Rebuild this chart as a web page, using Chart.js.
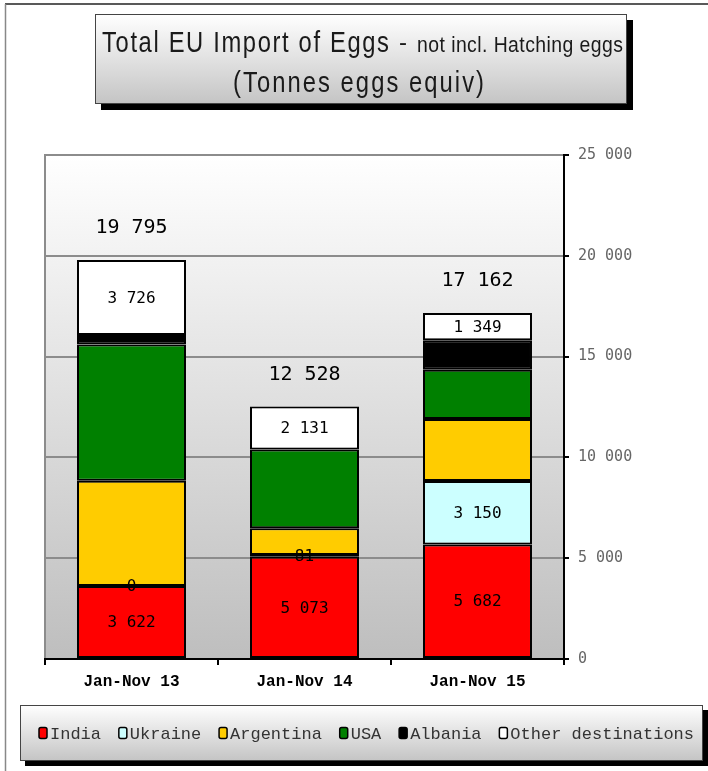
<!DOCTYPE html>
<html>
<head>
<meta charset="utf-8">
<script src="https://cdn.jsdelivr.net/npm/chart.js@4/dist/chart.umd.min.js"></script>
<style>
  html, body { margin: 0; padding: 0; background: #fff; }
  #wrap { width: 708px; height: 771px; position: relative; }
</style>
</head>
<body>
<div id="wrap"><canvas id="c" width="708" height="771"></canvas></div>
<script>
// ---- data ----
const categories = ["Jan-Nov 13", "Jan-Nov 14", "Jan-Nov 15"];
const seriesNames = ["India", "Ukraine", "Argentina", "USA", "Albania", "Other destinations"];
const india     = [3622, 5073, 5682];
const ukraine   = [0, 81, 3150];
const argentina = [5222, 1333, 3075];
const usa       = [6756, 3910, 2440];
const albania   = [469, 0, 1466];
const other     = [3726, 2131, 1349];
const totals    = [19795, 12528, 17162];
const yTicks    = [0, 5000, 10000, 15000, 20000, 25000];
const labelledSeries = ["India", "Ukraine", "Other destinations"];

const colors = ["#ff0000", "#ccffff", "#ffcc00", "#008000", "#000000", "#ffffff"];
const seriesValues = [india, ukraine, argentina, usa, albania, other];

function fmt(n) { return String(n).replace(/\B(?=(\d{3})+(?!\d))/g, " "); }

const datasets = seriesNames.map((name, i) => ({
  label: name,
  data: seriesValues[i],
  backgroundColor: colors[i],
  borderColor: "#000",
  borderWidth: 2,
  borderSkipped: false,
  categoryPercentage: 1.0,
  barPercentage: 0.63
}));

const CANVAS_W = 708, CANVAS_H = 771;
const PLOT_LEFT = 45, PLOT_TOP = 155, PLOT_RIGHT = 564, PLOT_BOTTOM = 659;

function drawFittedText(ctx, text, x, baseline, width, font, color, spacing) {
  ctx.save();
  ctx.font = font;
  if (spacing) ctx.letterSpacing = spacing + "px";
  const w = ctx.measureText(text).width - (spacing || 0);
  const sx = width / w;
  ctx.translate(x, baseline);
  ctx.scale(sx, 1);
  ctx.fillStyle = color;
  ctx.textAlign = "left";
  ctx.textBaseline = "alphabetic";
  ctx.fillText(text, 0, 0);
  ctx.restore();
}

function shadowBox(ctx, x, y, w, h, off) {
  ctx.save();
  ctx.fillStyle = "#000";
  ctx.fillRect(x + off, y + off, w, h);
  const g = ctx.createLinearGradient(0, y, 0, y + h);
  g.addColorStop(0, "#ffffff");
  g.addColorStop(1, "#c4c4c4");
  ctx.fillStyle = g;
  ctx.fillRect(x, y, w, h);
  ctx.strokeStyle = "#444";
  ctx.lineWidth = 1;
  ctx.strokeRect(x + 0.5, y + 0.5, w - 1, h - 1);
  ctx.restore();
}

const bgPlugin = {
  id: "bg",
  beforeDraw(chart) {
    const ctx = chart.ctx;
    const a = chart.chartArea;
    ctx.save();
    ctx.fillStyle = "#fff";
    ctx.fillRect(0, 0, CANVAS_W, CANVAS_H);
    // outer frame
    ctx.strokeStyle = "#222";
    ctx.lineWidth = 1.5;
    ctx.beginPath(); ctx.moveTo(5, 4); ctx.lineTo(CANVAS_W, 4); ctx.stroke();
    ctx.strokeStyle = "#888";
    ctx.beginPath(); ctx.moveTo(5.5, 4); ctx.lineTo(5.5, CANVAS_H); ctx.stroke();
    // plot background
    const g = ctx.createLinearGradient(0, a.top, 0, a.bottom);
    g.addColorStop(0, "#ffffff");
    g.addColorStop(1, "#bebebe");
    ctx.fillStyle = g;
    ctx.fillRect(a.left, a.top, a.right - a.left, a.bottom - a.top);
    ctx.strokeStyle = "#8c8c8c";
    ctx.lineWidth = 2;
    ctx.beginPath();
    ctx.moveTo(a.left, a.bottom); ctx.lineTo(a.left, a.top); ctx.lineTo(a.right, a.top);
    ctx.stroke();
    ctx.restore();
  },
  afterDraw(chart) {
    const ctx = chart.ctx;
    // data labels
    ctx.save();
    ctx.textAlign = "center";
    ctx.textBaseline = "middle";
    ctx.fillStyle = "#000";
    ctx.font = "16px 'DejaVu Sans Mono', monospace";
    chart.data.datasets.forEach((ds, i) => {
      if (!labelledSeries.includes(ds.label)) return;
      const meta = chart.getDatasetMeta(i);
      meta.data.forEach((bar, j) => {
        const cy = (bar.y + bar.base) / 2;
        ctx.fillText(fmt(ds.data[j]), bar.x, cy + 1);
      });
    });
    // totals
    ctx.font = "20px 'DejaVu Sans Mono', monospace";
    const topMeta = chart.getDatasetMeta(chart.data.datasets.length - 1);
    topMeta.data.forEach((bar, j) => {
      ctx.fillText(fmt(totals[j]), bar.x, bar.y - 32);
    });
    ctx.restore();

    // title box
    shadowBox(ctx, 95, 14, 532, 90, 6);
    drawFittedText(ctx, "Total EU Import of Eggs", 102, 52, 287, "29px 'Liberation Sans', Arial, sans-serif", "#1a1a1a", 2);
    drawFittedText(ctx, "-", 399, 50, 8, "24px 'Liberation Sans', Arial, sans-serif", "#1a1a1a");
    drawFittedText(ctx, "not incl. Hatching eggs", 417, 52, 206, "22px 'Liberation Sans', Arial, sans-serif", "#1a1a1a", 0.5);
    drawFittedText(ctx, "(Tonnes eggs equiv)", 233, 92, 251, "29px 'Liberation Sans', Arial, sans-serif", "#1a1a1a", 2.5);

    // legend box
    shadowBox(ctx, 20, 705, 683, 56, 5);
    ctx.save();
    ctx.font = "17px 'Liberation Mono', 'Courier New', monospace";
    ctx.textBaseline = "alphabetic";
    const startX = 39, endX = 694;
    const widths = chart.data.datasets.map(ds => ctx.measureText(ds.label).width);
    const used = widths.reduce((s, w) => s + 11 + w, 0);
    const gap = (endX - startX - used) / (widths.length - 1);
    let x = startX;
    chart.data.datasets.forEach((ds, i) => {
      ctx.fillStyle = ds.backgroundColor;
      ctx.strokeStyle = "#000";
      ctx.lineWidth = 1.5;
      ctx.beginPath();
      if (ctx.roundRect) ctx.roundRect(x, 727.5, 8, 11, 2); else ctx.rect(x, 727.5, 8, 11);
      ctx.fill(); ctx.stroke();
      ctx.fillStyle = "#333";
      ctx.fillText(ds.label, x + 11, 739);
      x += 11 + widths[i] + gap;
    });
    ctx.restore();
  }
};

new Chart(document.getElementById("c"), {
  type: "bar",
  data: { labels: categories, datasets },
  plugins: [bgPlugin],
  options: {
    responsive: false,
    animation: false,
    layout: { padding: { left: PLOT_LEFT, top: PLOT_TOP, right: 0, bottom: 0 } },
    plugins: { legend: { display: false }, title: { display: false }, tooltip: { enabled: false } },
    scales: {
      x: {
        stacked: true,
        offset: true,
        grid: { offset: true, drawOnChartArea: false, drawTicks: true, tickLength: 6, color: "#000", lineWidth: 2 },
        border: { color: "#000", width: 2 },
        ticks: { color: "#000", font: { family: "'Liberation Mono', 'Courier New', monospace", size: 16, weight: "bold" }, padding: 7, maxRotation: 0 },
        afterFit(s) { s.height = CANVAS_H - PLOT_BOTTOM; }
      },
      y: {
        position: "right",
        stacked: true,
        min: 0,
        max: 25000,
        afterBuildTicks(s) { s.ticks = yTicks.map(v => ({ value: v })); },
        grid: { color: "#8c8c8c", lineWidth: 2, tickColor: "#000", tickLength: 5, drawTicks: true },
        border: { color: "#000", width: 2 },
        ticks: { color: "#666", font: { family: "'DejaVu Sans Mono', monospace", size: 15 }, padding: 9, callback: (v) => fmt(v) },
        afterFit(s) { s.width = CANVAS_W - PLOT_RIGHT; }
      }
    }
  }
});
</script>
</body>
</html>
